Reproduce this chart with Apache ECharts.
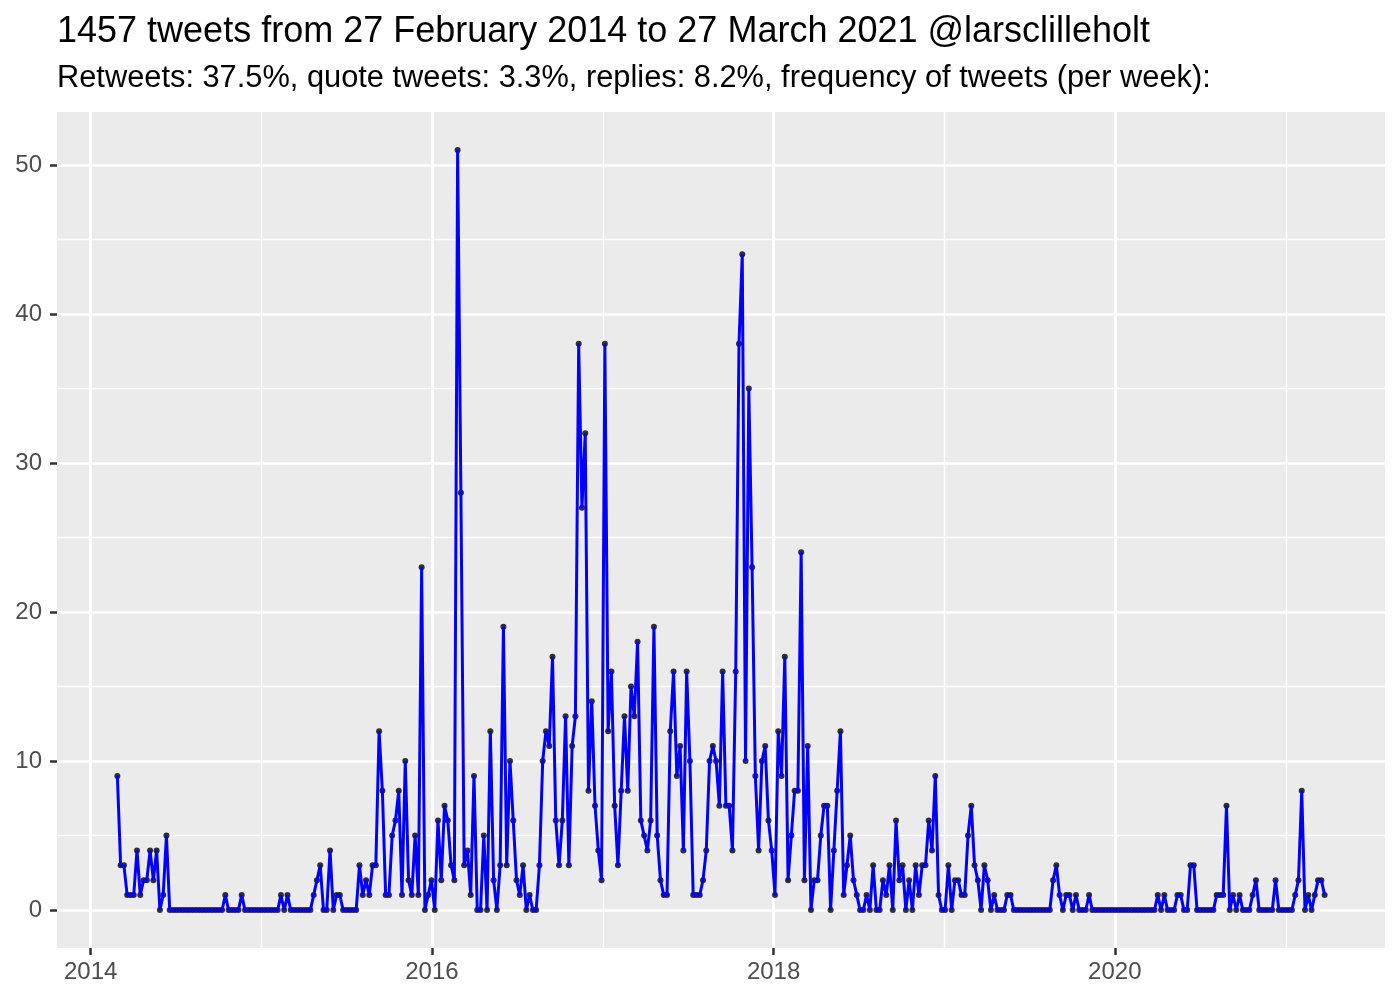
<!DOCTYPE html>
<html>
<head>
<meta charset="utf-8">
<script src="https://cdn.jsdelivr.net/npm/echarts@6/dist/echarts.min.js"></script>
<style>html,body{margin:0;padding:0;background:#fff}#c{width:1400px;height:1000px}</style>
</head>
<body>
<div id="c"></div>
<script>
// ---- data: tweets per week, starting with the week of 27 February 2014 ----
const firstWeek = '2014-02-27';
const weeks2014 = [9,3,3,1,1,1,4,1,2,2,4,2,4,0,1,5,0,
  0,0,0,0,0,0,0,0,0,0,0,0,0,0,0,0,
  1,0,0,0,0,1,0,0,0,0,0];
const weeks2015 = [0,0,0,0,0,0,1,0,1,0,0,0,0,0,0,0,
  1,2,3,0,0,4,0,1,1,0,0,0,0,0,3,1,2,1,3,3,12,8,1,1,5,6,8,1,10,2,1,5,1,23,0,1];
const weeks2016 = [2,0,6,2,7,6,3,2,51,28,3,4,1,9,0,0,5,0,12,2,0,3,19,3,10,6,2,1,3,0,1,0,0,3,
  10,12,11,17,6,3,6,13,3,11,13,38,27,32,8,14,7,4];
const weeks2017 = [2,38,12,16,7,3,8,13,8,15,13,18,
  6,5,4,6,19,5,2,1,1,12,16,9,11,4,16,10,1,1,1,2,4,10,11,10,7,16,7,7,4,16,
  38,44,10,35,23,9,4,10,11,6];
const weeks2018 = [4,1,12,9,17,2,5,8,8,24,2,11,0,2,2,5,7,7,0,4,8,12,
  1,3,5,2,1,0,0,1,0,3,0,0,2,1,3,0,6,2,3,0,2,0,3,1,3,3,6,4,9,1];
const weeks2019 = [0,0,3,0,2,2,1,1,5,7,3,2,0,3,2,0,1,0,0,0,1,1,
  0,0,0,0,0,0,0,0,0,0,0,0,
  2,3,1,0,1,1,0,1,0,0,0,1,
  0,0,0,0,0,0];
const weeks2020 = [0,0,0,0,0,0,0,0,0,0,0,0,0,0,
  1,0,1,0,0,0,1,1,0,0,3,3,0,0,0,0,0,0,1,1,1,7,0,1,0,1,0,0,0,1,2,0,0,0,0,0,2,0];
const weeks2021 = [0,0,0,0,1,2,8,0,1,0,1,2,2,1];

const yMajorTicks = [0,10,20,30,40,50];
const yMinorTicks = [5,15,25,35,45];
const xMajorYears = [2014,2016,2018,2020];
const xMinorYears = [2015,2017,2019,2021];
const titleText = '1457 tweets from 27 February 2014 to 27 March 2021 @larsclilleholt';
const subtitleText = 'Retweets: 37.5%, quote tweets: 3.3%, replies: 8.2%, frequency of tweets (per week):';

// ---- build ----
const counts = [].concat(weeks2014, weeks2015, weeks2016, weeks2017, weeks2018, weeks2019, weeks2020, weeks2021);
const DAY = 86400000;
const t0 = Date.parse(firstWeek + 'T00:00:00Z');
const points = counts.map((v, i) => [t0 + i * 7 * DAY, v]);
const tEnd = points[points.length - 1][0];
const span = tEnd - t0;
const xMin = t0 - 0.05 * span, xMax = tEnd + 0.05 * span;
const yHi = Math.max(...counts);
const yMin = -0.05 * yHi, yMax = yHi * 1.05;
const yr = y => Date.UTC(y, 0, 1);
const FONT = 'Liberation Sans, Arial, sans-serif';

const chart = echarts.init(document.getElementById('c'), null, {renderer: 'canvas'});
chart.setOption({
  animation: false,
  backgroundColor: '#ffffff',
  title: [
    {text: titleText, left: 57, top: 14, padding: 0,
     textStyle: {fontFamily: FONT, fontSize: 36, fontWeight: 'normal', color: '#000', lineHeight: 36}},
    {text: subtitleText, left: 57, top: 63, padding: 0,
     textStyle: {fontFamily: FONT, fontSize: 30.8, fontWeight: 'normal', color: '#000', lineHeight: 31}}
  ],
  grid: {left: 57, right: 15, top: 112, bottom: 52, show: true, backgroundColor: '#EBEBEB', borderWidth: 0, containLabel: false},
  xAxis: [
    {type: 'value', min: xMin, max: xMax, position: 'bottom', z: 1,
     axisLine: {show: false, onZero: false},
     axisTick: {show: true, inside: false, customValues: xMajorYears.map(yr), length: 7, lineStyle: {color: '#333333', width: 2.5}},
     axisLabel: {customValues: xMajorYears.map(yr), formatter: v => String(new Date(v).getUTCFullYear()),
       color: '#4D4D4D', fontSize: 24, fontFamily: FONT, margin: 12},
     splitLine: {show: true, lineStyle: {color: '#ffffff', width: 2.7}}},
    {type: 'value', min: xMin, max: xMax, position: 'top', z: 0,
     axisLine: {show: false, onZero: false},
     axisTick: {show: false, customValues: xMinorYears.map(yr)},
     axisLabel: {show: false, customValues: xMinorYears.map(yr)},
     splitLine: {show: true, lineStyle: {color: '#ffffff', width: 1.4}}}
  ],
  yAxis: [
    {type: 'value', min: yMin, max: yMax, position: 'left', z: 1,
     axisLine: {show: false, onZero: false},
     axisTick: {show: true, inside: false, customValues: yMajorTicks, length: 7, lineStyle: {color: '#333333', width: 2.5}},
     axisLabel: {customValues: yMajorTicks, color: '#4D4D4D', fontSize: 24, fontFamily: FONT, margin: 15},
     splitLine: {show: true, lineStyle: {color: '#ffffff', width: 2.7}}},
    {type: 'value', min: yMin, max: yMax, position: 'right', z: 0,
     axisLine: {show: false, onZero: false},
     axisTick: {show: false, customValues: yMinorTicks},
     axisLabel: {show: false, customValues: yMinorTicks},
     splitLine: {show: true, lineStyle: {color: '#ffffff', width: 1.4}}}
  ],
  series: [
    {type: 'scatter', xAxisIndex: 0, yAxisIndex: 0, data: points, symbol: 'circle', symbolSize: 6,
     itemStyle: {color: '#000000'}, z: 2, silent: true},
    {type: 'line', xAxisIndex: 0, yAxisIndex: 0, data: points, symbol: 'none', showSymbol: false,
     lineStyle: {color: '#0000FF', width: 3}, z: 3, silent: true}
  ]
});
</script>
</body>
</html>
